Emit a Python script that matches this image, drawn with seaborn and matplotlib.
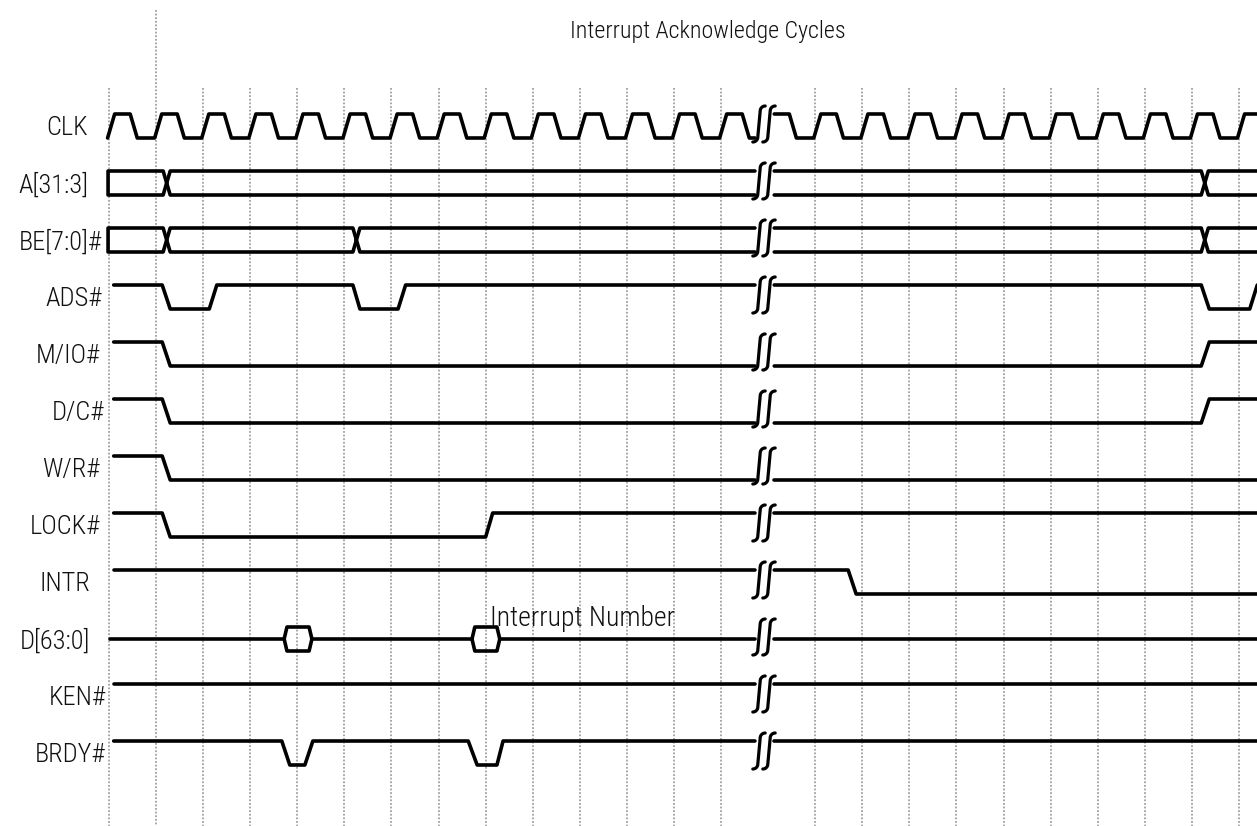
import numpy as np
import matplotlib
matplotlib.use('Agg')
import matplotlib.pyplot as plt
import seaborn as sns

# Signal names, top to bottom
signals = ['CLK', 'A[31:3]', 'BE[7:0]#', 'ADS#', 'M/IO#', 'D/C#', 'W/R#',
           'LOCK#', 'INTR', 'D[63:0]', 'KEN#', 'BRDY#']

# Time is in clock periods (gridline k = rising edge k)
clk_rise = [0, 1, 2, 3, 4, 5, 6, 7, 8, 9, 10, 11, 12, 13,
            14, 15, 16, 17, 18, 19, 20, 21, 22, 23, 24]
grid_t = [0, 1, 2, 3, 4, 5, 6, 7, 8, 9, 10, 11, 12, 13,
          15, 16, 17, 18, 19, 20, 21, 22, 23, 24]
break_t = (13.72, 14.13)

# bus crossings
a_cross = [1.15, 23.2]
be_cross = [1.15, 5.18, 23.2]

# single lines: vertex times / levels (1 = high, 0 = low)
ads_t = [0.1, 1.13, 1.3, 2.13, 2.29, 5.18, 5.33, 6.14, 6.3, 23.2, 23.37, 24.23, 24.39]
ads_v = [1, 1, 0, 0, 1, 1, 0, 0, 1, 1, 0, 0, 1]
mio_t = [0.1, 1.13, 1.3, 23.2, 23.37, 24.45]
mio_v = [1, 1, 0, 0, 1, 1]
dc_t = [0.1, 1.13, 1.3, 23.2, 23.37, 24.45]
dc_v = [1, 1, 0, 0, 1, 1]
wr_t = [0.1, 1.13, 1.3, 24.45]
wr_v = [1, 1, 0, 0]
lock_t = [0.1, 1.13, 1.3, 8.0, 8.15, 24.45]
lock_v = [1, 1, 0, 0, 1, 1]
intr_t = [0.1, 15.7, 15.87, 24.45]
intr_v = [1, 1, 0, 0]
ken_t = [0.1, 24.45]
ken_v = [1, 1]
brdy_t = [0.1, 3.67, 3.84, 4.16, 4.33, 7.63, 7.82, 8.24, 8.37, 24.45]
brdy_v = [1, 1, 0, 0, 1, 1, 0, 0, 1, 1]

# data bus valid windows (hexagons), rest floating
d_valid = [(3.72, 4.31), (7.71, 8.30)]
d_start, d_end = 0.02, 24.45

# layout (pixels -> data units)
PX0, PXT, PY0, PYR = 109, 47.08, 126, 57
H = 12 / PYR
LW = 2.6


def px2t(px):
    return (px - PX0) / PXT


def lvl(row, v):
    return row + H - 2 * H * np.asarray(v, dtype=float)


def clip_gap(ts, ys, g0=break_t[0], g1=break_t[1]):
    pieces, cur = [], []
    for k in range(len(ts) - 1):
        t0, y0, t1, y1 = ts[k], ys[k], ts[k + 1], ys[k + 1]
        if t0 == t1:
            subs = [] if g0 < t0 < g1 else [((t0, y0), (t1, y1))]
        else:
            us = [0.0, 1.0]
            for g in (g0, g1):
                u = (g - t0) / (t1 - t0)
                if 0 < u < 1:
                    us.append(u)
            us = sorted(us)
            subs = []
            for ua, ub in zip(us[:-1], us[1:]):
                tm = t0 + (ua + ub) / 2 * (t1 - t0)
                if g0 < tm < g1:
                    continue
                subs.append(((t0 + ua * (t1 - t0), y0 + ua * (y1 - y0)),
                             (t0 + ub * (t1 - t0), y0 + ub * (y1 - y0))))
        for a, b in subs:
            if cur and np.allclose(cur[-1], a):
                cur.append(b)
            else:
                if cur:
                    pieces.append(cur)
                cur = [a, b]
    if cur:
        pieces.append(cur)
    return pieces


def trace(ax, ts, ys):
    for p in clip_gap(list(ts), list(ys)):
        p = np.array(p)
        sns.lineplot(x=p[:, 0], y=p[:, 1], sort=False, estimator=None,
                     color='black', linewidth=LW, ax=ax, legend=False)


def bus(ax, row, cross, t0=-0.02, te=24.45, w=0.15):
    hi, lo, mid = lvl(row, 1), lvl(row, 0), row
    bounds = [t0] + list(cross) + [te]
    for k in range(len(bounds) - 1):
        a, b = bounds[k], bounds[k + 1]
        last = k == len(bounds) - 2
        if k == 0:
            left = [(a, hi), (a, lo)]
        else:
            left = [(a + w, hi), (a + w / 2, mid), (a + w, lo)]
        if last:
            pts = [(b, hi)] + left + [(b, lo)]
        else:
            pts = [(b + w / 2, mid), (b, hi)] + left + [(b, lo), (b + w / 2, mid)]
        pts = np.array(pts)
        trace(ax, pts[:, 0], pts[:, 1])


def squiggle(xc, r=5.0, ya=-15.0, yb=11.0, lean=1.2):
    # integral-sign mark in pixel offsets: top hook right, bottom hook left
    th = np.linspace(np.pi, np.pi / 2, 15)
    top = np.c_[xc + lean + r + r * np.cos(th), ya - r * np.sin(th)]
    stem = np.c_[np.linspace(xc + lean, xc - lean, 10), np.linspace(ya, yb, 10)]
    th = np.linspace(0, -np.pi / 2, 15)
    bot = np.c_[xc - lean - r + r * np.cos(th), yb - r * np.sin(th)]
    return np.vstack([top[::-1], stem, bot])


sns.set_theme(style='white')
plt.rcParams['font.family'] = ['Roboto Condensed', 'Liberation Sans Narrow', 'DejaVu Sans']
plt.rcParams['font.stretch'] = 'condensed'
plt.rcParams['font.weight'] = 'light'

fig = plt.figure(figsize=(12.57, 8.26), dpi=100)
ax = fig.add_axes([0, 0, 1, 1])
ax.set_xlim(px2t(0), px2t(1257))
ax.set_ylim((826 - PY0) / PYR, (0 - PY0) / PYR)
ax.axis('off')

# gridlines
for g in grid_t:
    top = 10 if g == 1 else 88
    ax.vlines(g, (top - PY0) / PYR, (826 - PY0) / PYR, color='#a0a0a0',
              linewidth=1.3, linestyle=(0, (1, 1)), zorder=0)

# clock
clk_t, clk_v = [], []
for r in clk_rise:
    clk_t += [r - 0.03, r + 0.12, r + 0.45, r + 0.6]
    clk_v += [0, 1, 1, 0]
trace(ax, clk_t, lvl(0, clk_v))

bus(ax, 1, a_cross)
bus(ax, 2, be_cross)

singles = {3: (ads_t, ads_v), 4: (mio_t, mio_v), 5: (dc_t, dc_v),
           6: (wr_t, wr_v), 7: (lock_t, lock_v), 8: (intr_t, intr_v),
           10: (ken_t, ken_v), 11: (brdy_t, brdy_v)}
for row, (ts, vs) in singles.items():
    trace(ax, ts, lvl(row, vs))

# data bus: floating midline with valid hexagons
row = 9
edges = [d_start]
for a, b in d_valid:
    edges += [a, b]
edges.append(d_end)
for k in range(0, len(edges), 2):
    trace(ax, [edges[k], edges[k + 1]], [row, row])
for a, b in d_valid:
    e = 0.06
    hx = [a, a + e, b - e, b, b - e, a + e, a]
    hy = [row, lvl(row, 1), lvl(row, 1), row, lvl(row, 0), lvl(row, 0), row]
    trace(ax, hx, hy)

# break marks
for row in range(len(signals)):
    for xc in (759, 769):
        sq = squiggle(xc)
        ax.plot(px2t(sq[:, 0]), row + sq[:, 1] / PYR, color='black',
                linewidth=2.3, solid_capstyle='round')

# labels
label_px = [88, 88, 102, 102, 100, 105, 100, 100, 90, 90, 106, 106]
for i, name in enumerate(signals):
    ax.text(px2t(label_px[i]), i + 0.03, name, ha='right', va='center',
            fontsize=19, color='#111111')

ax.text(px2t(708), (38 - PY0) / PYR, 'Interrupt Acknowledge Cycles',
        ha='center', va='baseline', fontsize=17.3, color='#111111')
ax.text(px2t(490), (626 - PY0) / PYR, 'Interrupt Number',
        ha='left', va='baseline', fontsize=20, color='#111111')

fig.savefig('out.png', dpi=100)
